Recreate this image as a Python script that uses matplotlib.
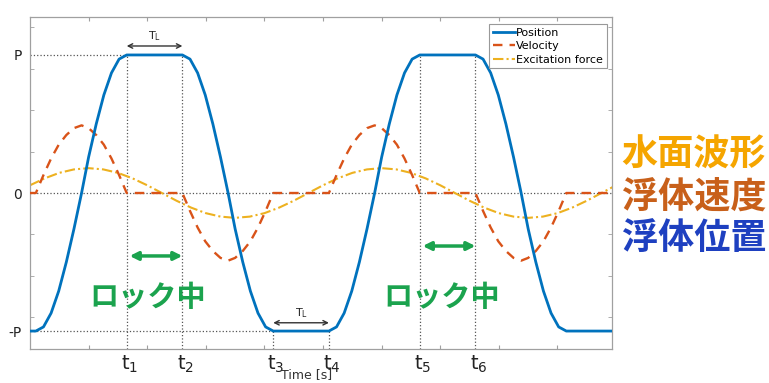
import matplotlib
matplotlib.use("Agg")
import matplotlib.pyplot as plt
from matplotlib.lines import Line2D
from matplotlib.transforms import blended_transform_factory

plt.rcParams['font.family'] = ['Noto Sans CJK JP', 'DejaVu Sans']

# time samples for position / velocity (ramps between lock periods)
t_pv = [0.00,
        0.10, 0.23, 0.36, 0.49, 0.62, 0.75, 0.88, 1.00, 1.13, 1.26, 1.39, 1.52, 1.65,
        2.60, 2.73, 2.86, 2.99, 3.12, 3.25, 3.38, 3.50, 3.63, 3.76, 3.89, 4.02, 4.15,
        5.10, 5.23, 5.36, 5.49, 5.62, 5.75, 5.88, 6.00, 6.13, 6.26, 6.39, 6.52, 6.65,
        7.60, 7.73, 7.86, 7.99, 8.12, 8.25, 8.38, 8.50, 8.63, 8.76, 8.89, 9.02, 9.15,
        9.93]
position = [-1.00,
            -1.00, -0.97, -0.87, -0.71, -0.50, -0.26, 0.00, 0.26, 0.50, 0.71, 0.87, 0.97, 1.00,
            1.00, 0.97, 0.87, 0.71, 0.50, 0.26, 0.00, -0.26, -0.50, -0.71, -0.87, -0.97, -1.00,
            -1.00, -0.97, -0.87, -0.71, -0.50, -0.26, 0.00, 0.26, 0.50, 0.71, 0.87, 0.97, 1.00,
            1.00, 0.97, 0.87, 0.71, 0.50, 0.26, 0.00, -0.26, -0.50, -0.71, -0.87, -0.97, -1.00,
            -1.00]
velocity = [0.00,
            0.00, 0.13, 0.25, 0.35, 0.42, 0.47, 0.49, 0.47, 0.42, 0.35, 0.25, 0.13, 0.00,
            0.00, -0.13, -0.25, -0.35, -0.42, -0.47, -0.49, -0.47, -0.42, -0.35, -0.25, -0.13, 0.00,
            0.00, 0.13, 0.25, 0.35, 0.42, 0.47, 0.49, 0.47, 0.42, 0.35, 0.25, 0.13, 0.00,
            0.00, -0.13, -0.25, -0.35, -0.42, -0.47, -0.49, -0.47, -0.42, -0.35, -0.25, -0.13, 0.00,
            0.00]

# excitation force (wave), sampled every 0.25 s
t_force = [0.00, 0.25, 0.50, 0.75, 1.00, 1.25, 1.50, 1.75, 2.00, 2.25,
           2.50, 2.75, 3.00, 3.25, 3.50, 3.75, 4.00, 4.25, 4.50, 4.75,
           5.00, 5.25, 5.50, 5.75, 6.00, 6.25, 6.50, 6.75, 7.00, 7.25,
           7.50, 7.75, 8.00, 8.25, 8.50, 8.75, 9.00, 9.25, 9.50, 9.75, 10.00]
force = [0.056, 0.106, 0.146, 0.171, 0.180, 0.171, 0.146, 0.106, 0.056, 0.000,
         -0.056, -0.106, -0.146, -0.171, -0.180, -0.171, -0.146, -0.106, -0.056, 0.000,
         0.056, 0.106, 0.146, 0.171, 0.180, 0.171, 0.146, 0.106, 0.056, 0.000,
         -0.056, -0.106, -0.146, -0.171, -0.180, -0.171, -0.146, -0.106, -0.056, 0.000,
         0.056]

# lock instants
t_marks = [1.65, 2.60, 4.15, 5.10, 6.65, 7.60]
t_names = ['t_1', 't_2', 't_3', 't_4', 't_5', 't_6']
mark_level = [1, 1, -1, -1, 1, 1]

c_pos = '#0072BD'
c_vel = '#D95319'
c_frc = '#EDB120'
green = '#1BA34E'
grey = '#a0a0a0'

fig = plt.figure(figsize=(7.69, 3.83), dpi=100)
ax = fig.add_axes([30/769, 1-349/383, 582/769, 332/383])

ax.axhline(0, color='#555555', ls=':', lw=0.9, zorder=1)
ax.plot([0, t_marks[0]], [1, 1], color='#555555', ls=':', lw=0.9, zorder=1)
ax.plot([0, t_marks[2]], [-1, -1], color='#555555', ls=':', lw=0.9, zorder=1)
for tm, lv in zip(t_marks, mark_level):
    ax.plot([tm, tm], [-1.13, lv], color='#555555', ls=':', lw=0.9, zorder=1)

l_pos, = ax.plot(t_pv, position, color=c_pos, lw=2.0, zorder=4, solid_joinstyle='round')
l_vel, = ax.plot(t_pv, velocity, color=c_vel, lw=1.7, dashes=(4, 3), zorder=3)
l_frc, = ax.plot(t_force, force, color=c_frc, lw=1.5, dashes=(5, 1.5, 1, 1.5), zorder=2)

ax.set_xlim(0, 9.93)
ax.set_ylim(-1.13, 1.275)

ax.set_xticks(range(1, 10))
ax.set_xticklabels([])
ax.set_yticks([-1, 0, 1])
ax.set_yticklabels(['-P', '0', 'P'], fontsize=10, family='DejaVu Sans', color='#222222')
ax.set_yticks([-0.9, -0.6, -0.3, 0.3, 0.6, 0.9, 1.2], minor=True)
ax.tick_params(axis='y', which='major', length=0, pad=6)
ax.tick_params(axis='y', which='minor', direction='in', length=3, color=grey, right=True)
ax.tick_params(axis='x', direction='in', length=3, color=grey, top=True)
for s in ax.spines.values():
    s.set_color(grey)
    s.set_linewidth(0.9)

trans = blended_transform_factory(ax.transData, ax.transAxes)
for tm, nm in zip(t_marks, t_names):
    ax.text(tm + 0.05, -0.062, '$\\mathsf{' + nm + '}$', transform=trans, ha='center',
            va='baseline', fontsize=14, color='#222222')
fig.text(307/769, 1-368/383, 'Time [s]', ha='center', va='top', fontsize=9,
         family='DejaVu Sans', color='#333333')

# T_L arrows
arr = dict(arrowstyle='<->', color='#333333', lw=1.0, mutation_scale=8, shrinkA=0, shrinkB=0)
ax.annotate('', xy=(t_marks[0], 1.065), xytext=(t_marks[1], 1.065), arrowprops=arr)
ax.text((t_marks[0] + t_marks[1]) / 2, 1.085, '$\\mathsf{T_L}$', ha='center', va='bottom',
        fontsize=8, color='#222222')
ax.annotate('', xy=(t_marks[2], -0.94), xytext=(t_marks[3], -0.94), arrowprops=arr)
ax.text((t_marks[2] + t_marks[3]) / 2, -0.92, '$\\mathsf{T_L}$', ha='center', va='bottom',
        fontsize=8, color='#222222')

# lock periods
garr = dict(arrowstyle='<|-|>', color=green, lw=2.5, mutation_scale=12, shrinkA=0, shrinkB=0)
ax.annotate('', xy=(t_marks[0] + 0.05, -0.456), xytext=(t_marks[1], -0.456), arrowprops=garr)
ax.annotate('', xy=(t_marks[4] + 0.05, -0.384), xytext=(t_marks[5], -0.384), arrowprops=garr)
ax.text(2.0, -0.754, 'ロック中', ha='center', va='center', fontsize=21, fontweight='bold',
        color=green)
ax.text(7.03, -0.754, 'ロック中', ha='center', va='center', fontsize=21, fontweight='bold',
        color=green)

leg = ax.legend([l_pos, l_vel, l_frc], ['Position', 'Velocity', 'Excitation force'],
                loc='upper right', bbox_to_anchor=(0.991, 0.979), borderaxespad=0,
                handlelength=2.0, handletextpad=0.1, labelspacing=0.3,
                borderpad=0.35, fancybox=False, framealpha=1, edgecolor='#999999',
                prop={'family': 'DejaVu Sans', 'size': 8})
leg.get_frame().set_linewidth(0.8)

fig.text(694/769, 1-155/383, '水面波形', ha='center', va='center', fontsize=26,
         fontweight='bold', color='#F5A500')
fig.text(694/769, 1-197/383, '浮体速度', ha='center', va='center', fontsize=26,
         fontweight='bold', color='#C8601A')
fig.text(694/769, 1-238/383, '浮体位置', ha='center', va='center', fontsize=26,
         fontweight='bold', color='#1E40C0')

fig.savefig('out.png', dpi=100)
